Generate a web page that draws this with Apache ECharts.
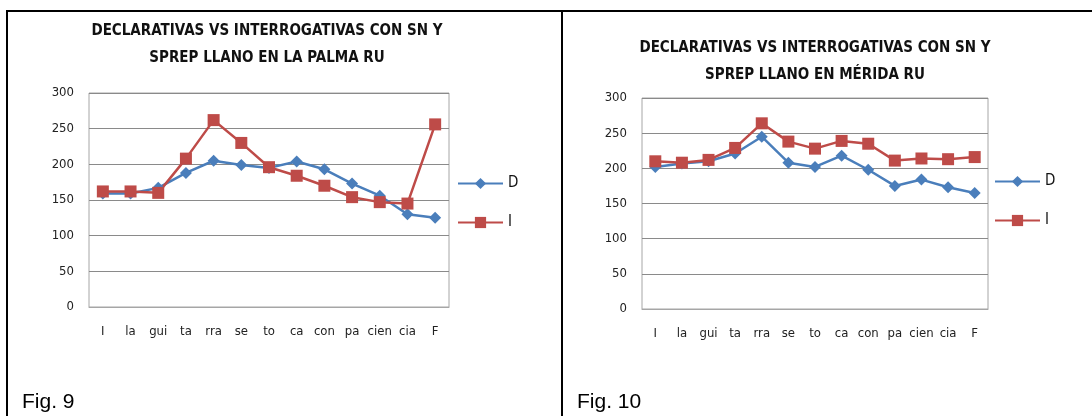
<!DOCTYPE html>
<html>
<head>
<meta charset="utf-8">
<script src="https://cdn.jsdelivr.net/npm/echarts@6/dist/echarts.min.js"></script>
<style>
  html, body { margin: 0; padding: 0; background: #fff; }
  #chart { width: 1092px; height: 416px; }
</style>
</head>
<body>
<div id="chart"></div>
<script>
// syllables on the x axis (same for both figures)
const categories = ['I', 'la', 'gui', 'ta', 'rra', 'se', 'to', 'ca', 'con', 'pa', 'cien', 'cia', 'F']
const yTicks = [0, 50, 100, 150, 200, 250, 300]

// Fig. 9 - La Palma
const palmaD = [159, 159, 167, 188, 205, 199, 195, 204, 193, 173, 156, 130, 125]
const palmaI = [162, 162, 160, 208, 262, 230, 196, 184, 170, 154, 147, 145, 256]

// Fig. 10 - Mérida
const meridaD = [202, 207, 210, 221, 245, 208, 202, 218, 198, 175, 184, 173, 165]
const meridaI = [210, 208, 212, 229, 264, 238, 228, 239, 235, 211, 214, 213, 216]

const titles = [
  'DECLARATIVAS VS INTERROGATIVAS CON SN Y\nSPREP LLANO EN LA PALMA RU',
  'DECLARATIVAS VS INTERROGATIVAS CON SN Y\nSPREP LLANO EN MÉRIDA RU'
]
const figLabels = ['Fig. 9', 'Fig. 10']

const blue = '#4a7ebb'
const red = '#be4b48'
const font = '"DejaVu Sans Condensed", "Open Sans", sans-serif'

const chart = echarts.init(document.getElementById('chart'))

const grids = [
  { left: 89, top: 93, width: 360, height: 214 },
  { left: 642, top: 98, width: 346, height: 211 }
]

const xAxis = grids.map((g, i) => ({
  type: 'category',
  gridIndex: i,
  data: categories,
  axisLine: { lineStyle: { color: '#a6a6a6' } },
  axisTick: { show: false },
  axisLabel: { color: '#222', fontSize: 13, fontFamily: font, margin: 18, interval: 0 }
}))

const yAxis = grids.map((g, i) => ({
  type: 'value',
  gridIndex: i,
  min: yTicks[0],
  max: yTicks[yTicks.length - 1],
  interval: 50,
  axisLine: { show: false },
  axisTick: { show: false },
  axisLabel: { color: '#222', fontSize: 13, fontFamily: font, margin: 15 },
  splitLine: { lineStyle: { color: '#8a8a8a', width: 1 } }
}))

const makeSeries = (name, data, idx, color, symbol, size) => ({
  name,
  type: 'line',
  xAxisIndex: idx,
  yAxisIndex: idx,
  data,
  symbol,
  symbolSize: size,
  lineStyle: { color, width: 2.5 },
  itemStyle: { color },
  emphasis: { disabled: true },
  animation: false
})

const option = {
  animation: false,
  title: [
    { text: titles[0], left: 262, top: 13, textAlign: 'center' },
    { text: titles[1], left: 810, top: 30, textAlign: 'center' }
  ].map(t => ({
    ...t,
    textStyle: { fontFamily: font, fontWeight: 'bold', fontSize: 15, color: '#111', lineHeight: 27 }
  })),
  legend: [
    { left: 457, top: 176, data: ['D', 'I'] },
    { left: 994, top: 174, data: ['D2', 'I2'] }
  ].map(l => ({
    ...l,
    orient: 'vertical',
    itemWidth: 45,
    itemHeight: 14,
    itemGap: 24,
    padding: 0,
    formatter: n => n.replace('2', ''),
    textStyle: { fontFamily: font, fontSize: 15, color: '#111' }
  })),
  grid: grids.map(g => ({ ...g, show: true, borderColor: '#a6a6a6', borderWidth: 1 })),
  xAxis,
  yAxis,
  series: [
    makeSeries('D', palmaD, 0, blue, 'diamond', 12),
    makeSeries('I', palmaI, 0, red, 'rect', 12),
    makeSeries('D2', meridaD, 1, blue, 'diamond', 12),
    makeSeries('I2', meridaI, 1, red, 'rect', 12)
  ],
  graphic: [
    { type: 'line', shape: { x1: 6, y1: 11, x2: 1092, y2: 11 }, style: { stroke: '#000', lineWidth: 2 } },
    { type: 'line', shape: { x1: 7, y1: 11, x2: 7, y2: 416 }, style: { stroke: '#000', lineWidth: 2 } },
    { type: 'line', shape: { x1: 562, y1: 11, x2: 562, y2: 416 }, style: { stroke: '#000', lineWidth: 2 } },
    { type: 'text', left: 22, top: 392, style: { text: figLabels[0], font: '21px "Liberation Sans", Arial, sans-serif', fill: '#000' } },
    { type: 'text', left: 577, top: 392, style: { text: figLabels[1], font: '21px "Liberation Sans", Arial, sans-serif', fill: '#000' } }
  ]
}

chart.setOption(option)
</script>
</body>
</html>
